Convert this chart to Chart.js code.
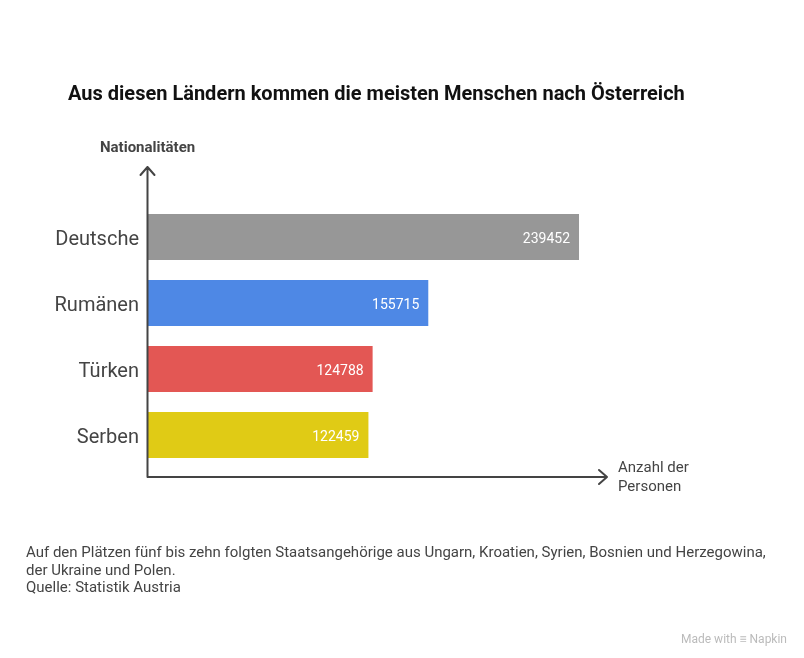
<!DOCTYPE html>
<html>
<head>
<meta charset="utf-8">
<script src="https://cdn.jsdelivr.net/npm/chart.js@4.4.0/dist/chart.umd.min.js"></script>
<style>
  html, body { margin: 0; padding: 0; background: #fff; }
  body { width: 804px; height: 658px; position: relative; overflow: hidden; font-family: Roboto, sans-serif; }
  #chart { position: absolute; left: 0; top: 0; }
  .txt { position: absolute; white-space: nowrap; color: #444; }
  #title { left: 68px; top: 81px; font-size: 20px; font-weight: 700; color: #111; }
  #ytitle { left: 100px; top: 138px; font-size: 15px; font-weight: 700; }
  #xtitle { left: 618px; top: 458px; font-size: 15px; line-height: 19px; }
  #note { left: 26px; top: 544px; font-size: 15px; line-height: 17.5px; }
  #brand { left: 681px; top: 632px; font-size: 12px; color: #bbb; }
</style>
</head>
<body>
<canvas id="chart" width="804" height="658"></canvas>
<div class="txt" id="title">Aus diesen Ländern kommen die meisten Menschen nach Österreich</div>
<div class="txt" id="ytitle">Nationalitäten</div>
<div class="txt" id="xtitle">Anzahl der<br>Personen</div>
<div class="txt" id="note">Auf den Plätzen fünf bis zehn folgten Staatsangehörige aus Ungarn, Kroatien, Syrien, Bosnien und Herzegowina,<br>der Ukraine und Polen.<br>Quelle: Statistik Austria</div>
<div class="txt" id="brand">Made with &#8801; Napkin</div>
<script>
const nationalities = ['Deutsche', 'Rumänen', 'Türken', 'Serben'];
const persons = [239452, 155715, 124788, 122459];
const barColors = ['#979797', '#4e88e5', '#e35754', '#e0cb15'];

// white value labels at the end of each bar
const valueLabels = {
  id: 'valueLabels',
  afterDatasetsDraw(chart) {
    const ctx = chart.ctx;
    const meta = chart.getDatasetMeta(0);
    ctx.save();
    ctx.font = '14px Roboto, sans-serif';
    ctx.fillStyle = '#fff';
    ctx.textAlign = 'right';
    ctx.textBaseline = 'middle';
    meta.data.forEach((bar, i) => {
      ctx.fillText(String(chart.data.datasets[0].data[i]), bar.x - 9, bar.y + 2);
    });
    ctx.restore();
  }
};

// axis lines with arrow heads, like the original
const arrowAxes = {
  id: 'arrowAxes',
  afterDraw(chart) {
    const ctx = chart.ctx;
    const a = chart.chartArea;
    const x0 = a.left - 0.5, y0 = a.bottom + 9;
    const yTop = a.top - 37, xEnd = a.right + 9;
    ctx.save();
    ctx.strokeStyle = '#444';
    ctx.lineWidth = 2;
    ctx.lineCap = 'round';
    ctx.lineJoin = 'round';
    ctx.beginPath();
    ctx.moveTo(x0, y0);
    ctx.lineTo(x0, yTop);
    ctx.moveTo(x0 - 7, yTop + 8);
    ctx.lineTo(x0, yTop);
    ctx.lineTo(x0 + 7, yTop + 8);
    ctx.moveTo(x0, y0);
    ctx.lineTo(xEnd, y0);
    ctx.moveTo(xEnd - 8, y0 - 7);
    ctx.lineTo(xEnd, y0);
    ctx.lineTo(xEnd - 8, y0 + 7);
    ctx.stroke();
    ctx.restore();
  }
};

new Chart(document.getElementById('chart'), {
  type: 'bar',
  data: {
    labels: nationalities,
    datasets: [{
      data: persons,
      backgroundColor: barColors,
      borderWidth: 0,
      barPercentage: 0.697,
      categoryPercentage: 1
    }]
  },
  options: {
    indexAxis: 'y',
    responsive: false,
    animation: false,
    layout: { padding: { left: 8, right: 206, top: 204, bottom: 190 } },
    plugins: { legend: { display: false }, tooltip: { enabled: false } },
    scales: {
      x: { display: false, min: 0, max: 250000 },
      y: {
        grid: { display: false, drawTicks: false },
        border: { display: false },
        ticks: { padding: 9, labelOffset: 3, color: '#444', font: { family: 'Roboto', size: 20 } },
        afterFit(scale) { scale.width = 140; }
      }
    }
  },
  plugins: [valueLabels, arrowAxes]
});
</script>
</body>
</html>
